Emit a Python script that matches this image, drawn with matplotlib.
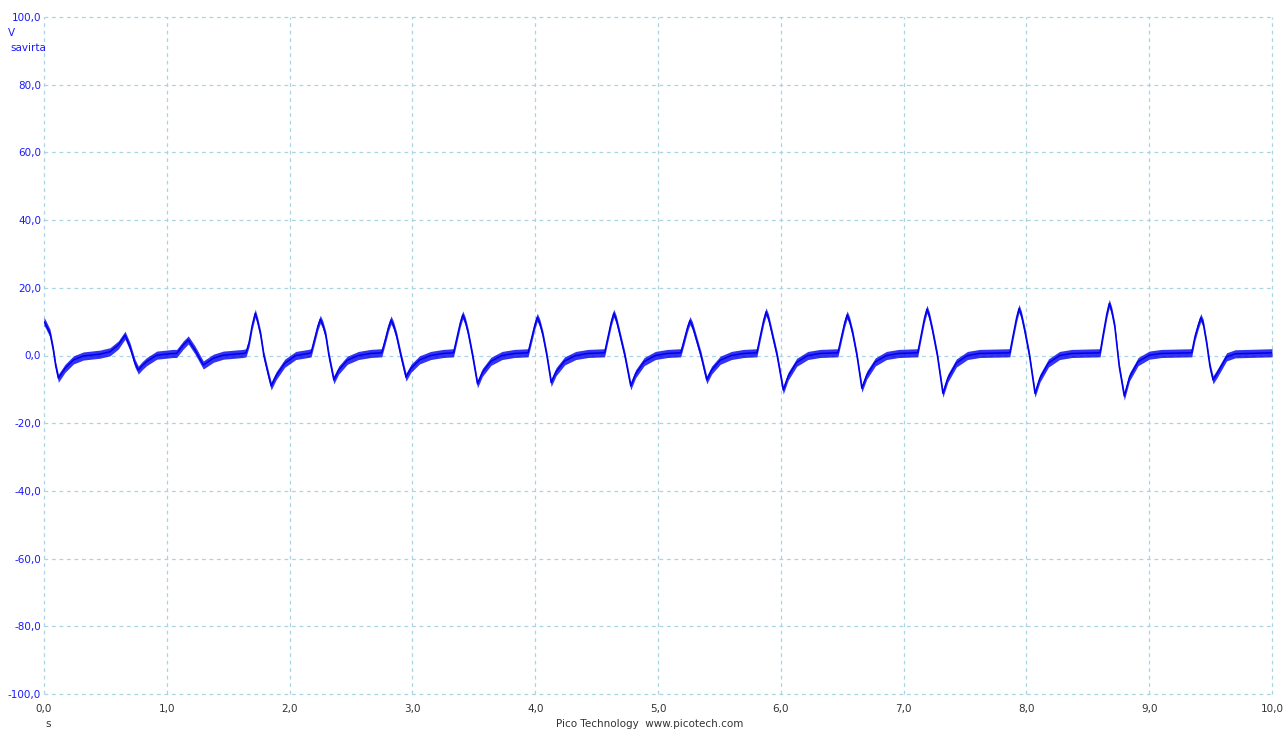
import matplotlib
matplotlib.use("Agg")
import matplotlib.pyplot as plt
from matplotlib.ticker import FixedLocator, FuncFormatter

# ---- data ----
time_s = [
    0.0, 0.01, 0.03, 0.049, 0.076, 0.095, 0.117, 0.14, 0.171, 0.24, 0.32, 0.456, 0.537, 0.605,
    0.66, 0.70, 0.741, 0.768, 0.80, 0.836, 0.918, 1.05, 1.08, 1.134, 1.175, 1.23, 1.297, 1.33,
    1.38, 1.46, 1.62,
    1.645, 1.67, 1.695, 1.72, 1.74, 1.765, 1.79, 1.825, 1.85, 1.89, 1.96, 2.05, 2.15,
    2.175, 2.20, 2.23, 2.25, 2.27, 2.295, 2.32, 2.36, 2.40, 2.47, 2.56, 2.66,
    2.75, 2.776, 2.806, 2.826, 2.846, 2.871, 2.906, 2.948, 2.988, 3.058, 3.148, 3.25,
    3.335, 3.36, 3.39, 3.41, 3.43, 3.455, 3.49, 3.53, 3.57, 3.64, 3.73, 3.83,
    3.942, 3.967, 3.997, 4.017, 4.037, 4.062, 4.095, 4.13, 4.17, 4.24, 4.33, 4.43,
    4.565, 4.59, 4.62, 4.64, 4.66, 4.685, 4.73, 4.778, 4.818, 4.888, 4.978, 5.078,
    5.185, 5.21, 5.24, 5.26, 5.28, 5.305, 5.35, 5.397, 5.437, 5.507, 5.597, 5.697,
    5.805, 5.83, 5.86, 5.88, 5.90, 5.925, 5.97, 6.02, 6.06, 6.13, 6.22, 6.32,
    6.465, 6.49, 6.52, 6.54, 6.56, 6.585, 6.62, 6.66, 6.70, 6.77, 6.86, 6.96,
    7.115, 7.14, 7.17, 7.19, 7.21, 7.235, 7.275, 7.32, 7.36, 7.43, 7.52, 7.62,
    7.865, 7.89, 7.92, 7.94, 7.96, 7.985, 8.025, 8.07, 8.11, 8.18, 8.27, 8.37,
    8.60, 8.625, 8.655, 8.675, 8.695, 8.72, 8.756, 8.797, 8.84, 8.91, 9.0, 9.1,
    9.346, 9.373, 9.40, 9.42, 9.44, 9.468, 9.495, 9.52, 9.55, 9.577, 9.63, 9.70, 10.0,
]
volts = [
    10.0, 9.5, 8.0, 6.6, 1.6, -3.0, -6.7, -5.5, -3.8, -1.3, -0.15, 0.4, 1.1, 3.1,
    6.0, 2.6, -2.3, -4.3, -3.0, -1.8, 0.1, 0.6, 0.6, 3.1, 4.6, 1.6, -2.8, -2.0,
    -0.8, 0.1, 0.6,
    0.8, 3.8, 8.8, 12.5, 10.0, 6.0, 0.0, -5.4, -9.0, -6.0, -2.3, 0.0, 0.6,
    0.8, 4.3, 8.6, 10.7, 9.1, 5.9, 0.0, -7.2, -4.3, -1.4, 0.0, 0.6,
    0.8, 4.2, 8.4, 10.5, 8.9, 5.8, 0.0, -6.4, -3.8, -1.3, 0.0, 0.6,
    0.8, 4.8, 9.6, 12.0, 10.2, 6.6, 0.0, -8.4, -5.0, -1.7, 0.0, 0.6,
    0.8, 4.5, 9.0, 11.3, 9.6, 6.2, 0.0, -8.0, -4.8, -1.6, 0.0, 0.6,
    0.8, 5.0, 10.0, 12.5, 10.6, 6.9, 0.0, -9.0, -5.4, -1.8, 0.0, 0.6,
    0.8, 4.1, 8.2, 10.3, 8.8, 5.7, 0.0, -7.2, -4.3, -1.4, 0.0, 0.6,
    0.8, 5.2, 10.3, 12.9, 11.0, 7.1, 0.0, -10.2, -6.1, -2.0, 0.0, 0.6,
    0.8, 4.8, 9.6, 12.0, 10.2, 6.6, 0.0, -9.7, -5.8, -1.9, 0.0, 0.6,
    0.8, 5.5, 11.0, 13.7, 11.6, 7.5, 0.0, -11.2, -6.7, -2.2, 0.0, 0.6,
    0.8, 5.6, 11.1, 13.9, 11.8, 7.6, 0.0, -11.2, -6.7, -2.2, 0.0, 0.6,
    0.8, 6.2, 12.3, 15.4, 13.1, 8.5, -3.3, -12.0, -6.3, -1.8, 0.1, 0.6,
    0.8, 5.6, 9.0, 11.2, 9.5, 3.6, -3.3, -7.2, -5.5, -3.8, -0.4, 0.5, 0.8,
]
x_ticks = [0, 1, 2, 3, 4, 5, 6, 7, 8, 9, 10]
y_ticks = [-100, -80, -60, -40, -20, 0, 20, 40, 60, 80, 100]

# ---- style ----
TRACE = "#0000ee"
GRID = "#a9d4e4"
NOISE_HALF = 1.2

fig = plt.figure(figsize=(12.85, 7.33), dpi=100)
ax = fig.add_axes([44 / 1285, 1 - 694 / 733, (1272 - 44) / 1285, (694 - 17) / 733])

ax.fill_between(time_s, [v - NOISE_HALF for v in volts], [v + NOISE_HALF for v in volts],
                color=TRACE, alpha=0.8, linewidth=0, zorder=3)
ax.plot(time_s, volts, color=TRACE, linewidth=1.1, zorder=4)

ax.set_xlim(0, 10)
ax.set_ylim(-100, 100)
ax.xaxis.set_major_locator(FixedLocator(x_ticks))
ax.yaxis.set_major_locator(FixedLocator(y_ticks))
fmt = FuncFormatter(lambda v, p: f"{v:.1f}".replace(".", ","))
ax.xaxis.set_major_formatter(fmt)
ax.yaxis.set_major_formatter(fmt)
ax.grid(True, color=GRID, linestyle=(0, (3, 3)), linewidth=0.9, zorder=0)
for s in ax.spines.values():
    s.set_visible(False)
ax.tick_params(axis="both", length=0, labelsize=7.5)
ax.tick_params(axis="y", colors="#1a1aff", pad=2)
ax.tick_params(axis="x", colors="#333333", pad=7)
for gl in ax.get_xgridlines() + ax.get_ygridlines():
    gl.set_clip_on(False)

fig.text(8 / 1285, 1 - 33 / 733, "V", color="#1a1aff", fontsize=7.5, ha="left", va="center")
fig.text(10 / 1285, 1 - 48 / 733, "savirta", color="#1a1aff", fontsize=7.5, ha="left", va="center")
fig.text(48 / 1285, 1 - 724 / 733, "s", color="#333333", fontsize=7.5, ha="center", va="center")
fig.text(650 / 1285, 1 - 724 / 733, "Pico Technology  www.picotech.com", color="#333333",
         fontsize=7.5, ha="center", va="center")

fig.savefig("out.png", dpi=100, facecolor="white")
